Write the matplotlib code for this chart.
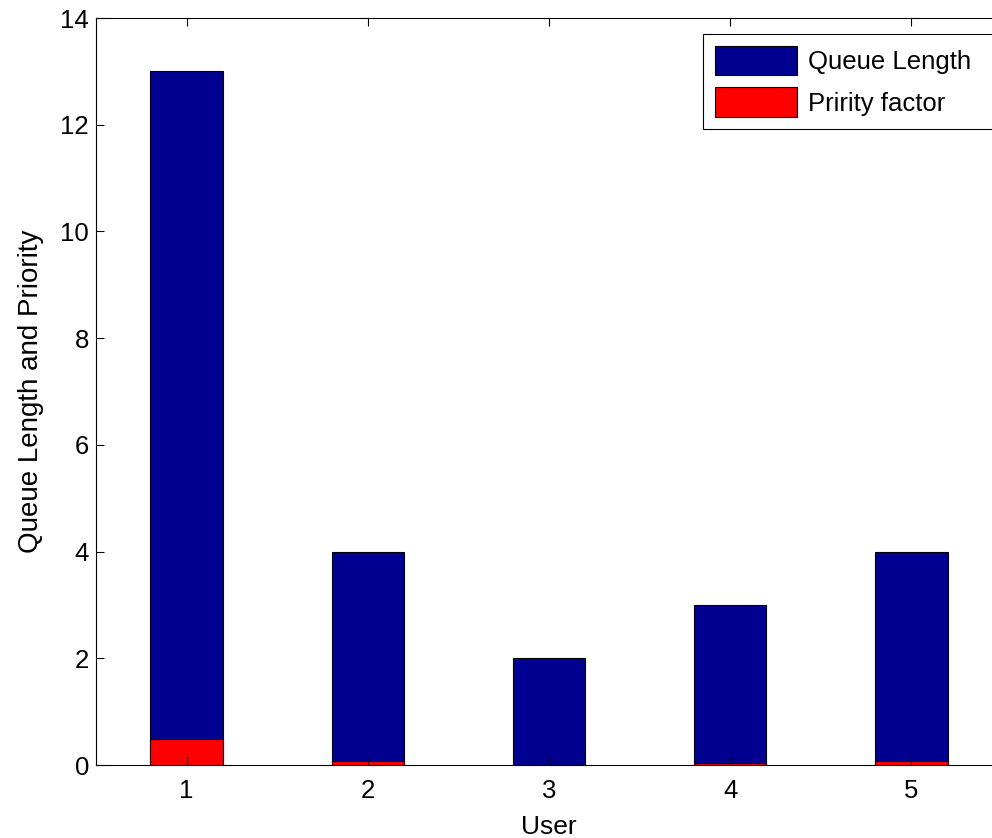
import numpy as np
import matplotlib
matplotlib.use("Agg")
import matplotlib.pyplot as plt

plt.rcParams['font.family'] = ['Liberation Sans', 'DejaVu Sans']

# data
users = [1, 2, 3, 4, 5]
queue_length = [13, 4, 2, 3, 4]
priority_factor = [0.48, 0.08, 0.0, 0.03, 0.08]

fig = plt.figure(figsize=(9.92, 8.38), dpi=100)
# right edge of the axes sits just past the picture edge, as in the reference
ax = fig.add_axes([96 / 992, 1 - 765 / 838, (1002 - 96) / 992, (765 - 18) / 838])

ax.bar(users, queue_length, width=0.4, color='#000090', edgecolor='black',
       linewidth=0.8, label='Queue Length')
ax.bar(users, priority_factor, width=0.4, color='#ff0000', edgecolor='black',
       linewidth=0.8, label='Pririty factor')

ax.set_xlim(0.5, 5.5)
ax.set_ylim(0, 14)
ax.set_xticks(users)
ax.set_yticks(np.arange(0, 15, 2))
ax.tick_params(direction='in', top=True, right=True, labelsize=18.5, length=6)
ax.tick_params(axis='x', pad=10)
ax.tick_params(axis='y', pad=5)
ax.set_xlabel('User', fontsize=19, labelpad=9)
ax.set_ylabel('Queue Length and Priority', fontsize=20, labelpad=12)

# legend box runs off the right edge of the picture, like the reference
leg = ax.legend(loc='upper left', bbox_to_anchor=(0.670, 0.5, 0.33, 0.4786),
                mode='expand', fontsize=18.5,
                fancybox=False, edgecolor='black', framealpha=1,
                handlelength=3.2, handleheight=1.4, handletextpad=0.45,
                labelspacing=0.47, borderpad=0.45, borderaxespad=0)
leg.get_frame().set_linewidth(0.8)

fig.savefig('out.png', dpi=100)
